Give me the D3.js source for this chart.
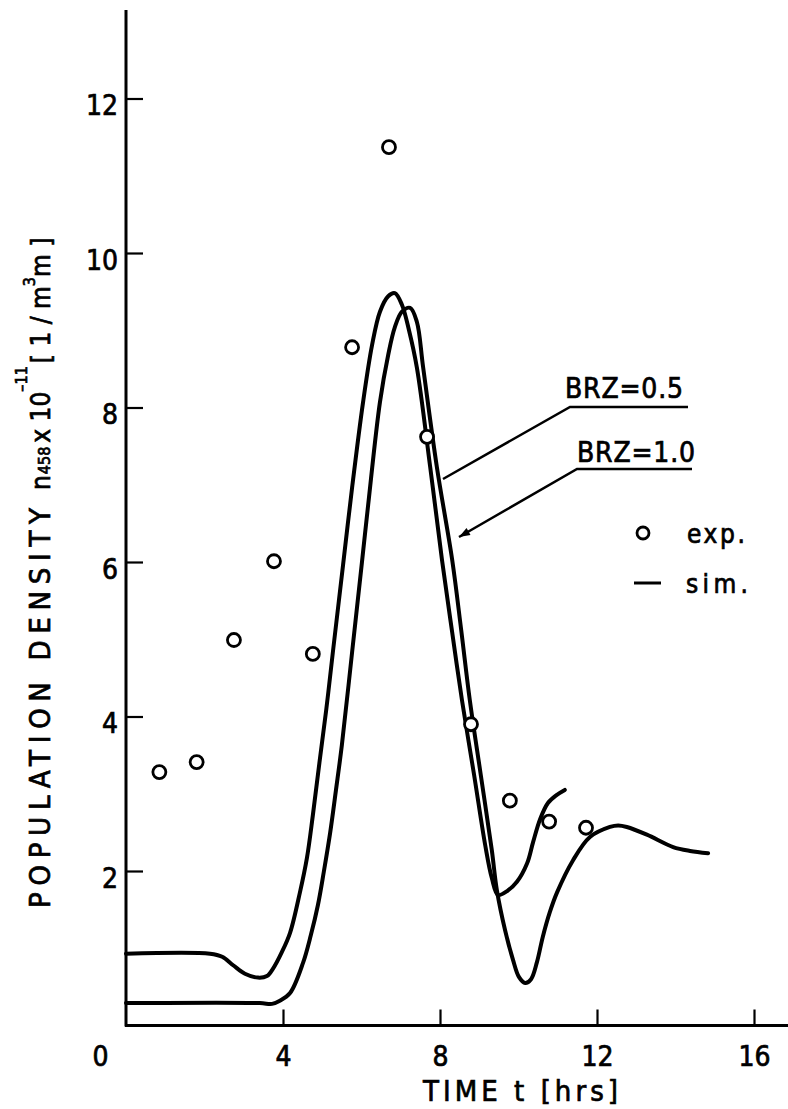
<!DOCTYPE html>
<html>
<head>
<meta charset="utf-8">
<script src="https://cdn.jsdelivr.net/npm/d3@7"></script>
<style>
  body { margin: 0; background: #fff; }
  svg text { font-family: "DejaVu Sans Condensed", "DejaVu Sans", sans-serif; fill: #000; stroke: #000; stroke-width: 0.7px; }
</style>
</head>
<body>
<div id="wrapper"></div>
<script>
// measured data: experiment points and the two simulated curves
const expTime = [0.85, 1.8, 2.75, 3.77, 4.76, 5.76, 6.7, 7.67, 8.79, 9.78, 10.78, 11.72]
const expDensity = [3.28, 3.41, 4.99, 6.01, 4.81, 8.78, 11.37, 7.62, 3.9, 2.91, 2.64, 2.56]

const simTimeBrz05 = [0, 2.14, 2.45, 2.73, 3.03, 3.36, 3.59, 3.75, 3.97, 4.18, 4.43, 4.61, 4.76, 4.92, 5.1, 5.27, 5.53, 5.76, 6.04, 6.27, 6.47, 6.68, 6.85, 7.03, 7.21, 7.41, 7.75, 8.05, 8.31, 8.56, 8.87, 9.15, 9.32, 9.48, 9.71, 9.96, 10.22, 10.37, 10.55, 10.75, 10.96, 11.18]
const simDensityBrz05 = [0.93, 0.93, 0.89, 0.78, 0.67, 0.62, 0.64, 0.74, 0.95, 1.2, 1.72, 2.17, 2.72, 3.37, 4.08, 4.83, 5.96, 6.96, 8.07, 8.81, 9.24, 9.44, 9.48, 9.33, 9.0, 8.52, 7.23, 6.03, 5.09, 4.21, 3.24, 2.34, 1.91, 1.69, 1.74, 1.86, 2.1, 2.37, 2.67, 2.88, 2.98, 3.05]

const simTimeBrz10 = [0, 3.41, 3.72, 3.92, 4.18, 4.51, 4.71, 4.89, 5.04, 5.2, 5.35, 5.5, 5.76, 6.01, 6.17, 6.47, 6.68, 6.85, 7.03, 7.24, 7.41, 7.57, 7.92, 8.31, 8.54, 8.76, 9.04, 9.32, 9.45, 9.66, 9.86, 10.01, 10.17, 10.32, 10.47, 10.62, 10.8, 10.98, 11.39, 11.82, 12.33, 12.54, 12.76, 13.27, 13.94, 14.37, 14.83]
const simDensityBrz10 = [0.29, 0.29, 0.28, 0.32, 0.42, 0.81, 1.17, 1.56, 1.99, 2.49, 3.05, 3.63, 4.83, 5.99, 6.74, 8.07, 8.68, 9.04, 9.24, 9.29, 9.11, 8.52, 7.23, 6.03, 5.12, 4.21, 3.24, 2.27, 1.75, 1.23, 0.85, 0.63, 0.55, 0.6, 0.82, 1.15, 1.47, 1.72, 2.14, 2.44, 2.57, 2.59, 2.57, 2.47, 2.31, 2.26, 2.23]

const xTicks = [0, 4, 8, 12, 16]
const yTicks = [2, 4, 6, 8, 10, 12]

const curves = [
    {label: "BRZ=0.5", t: simTimeBrz05, n: simDensityBrz05},
    {label: "BRZ=1.0", t: simTimeBrz10, n: simDensityBrz10},
]

// chart dimensions
const width = 788
const height = 1109

const svg = d3.select("#wrapper")
    .append("svg")
    .attr("width", width)
    .attr("height", height)

const xScale = d3.scaleLinear().domain([0, 16]).range([126, 754])
const yScale = d3.scaleLinear().domain([0, 12]).range([1025.5, 98.5])

// axes
const xAxis = svg.append("g")
    .attr("transform", `translate(0, ${yScale(0)})`)
    .call(d3.axisBottom(xScale).tickValues(xTicks).tickSize(-16).tickSizeOuter(0))
xAxis.select(".domain").remove()
xAxis.selectAll("line").attr("stroke-width", 2.2)
xAxis.selectAll("text")
    .attr("y", 40).attr("dy", 0)
    .style("font-size", "28px")
    .attr("dx", d => d === 0 ? -26 : 0)
xAxis.selectAll(".tick").filter(d => d === 0).select("line").remove()

const yAxis = svg.append("g")
    .attr("transform", `translate(${xScale(0)}, 0)`)
    .call(d3.axisLeft(yScale).tickValues(yTicks).tickSize(-17).tickPadding(8).tickSizeOuter(0))
yAxis.select(".domain").remove()
yAxis.selectAll("line").attr("stroke-width", 2.2)
yAxis.selectAll("text")
    .attr("dy", 16)
    .style("font-size", "28px")

svg.append("line")
    .attr("x1", xScale(0)).attr("x2", xScale(0))
    .attr("y1", 10).attr("y2", yScale(0) + 1)
    .attr("stroke", "#000").attr("stroke-width", 3)
svg.append("line")
    .attr("x1", xScale(0) - 1).attr("x2", width)
    .attr("y1", yScale(0)).attr("y2", yScale(0))
    .attr("stroke", "#000").attr("stroke-width", 3)

// axis titles
svg.append("text")
    .attr("x", 423).attr("y", 1101)
    .attr("textLength", 195)
    .style("font-size", "29px")
    .text("TIME t [hrs]")

const yTitle = svg.append("g")
    .attr("transform", "translate(50, 0) rotate(-90)")
yTitle.append("text")
    .attr("x", -908).attr("y", 0)
    .attr("textLength", 400)
    .style("font-size", "29px")
    .text("POPULATION DENSITY")
const unitText = yTitle.append("text")
    .attr("x", -490).attr("y", 0)
    .style("font-size", "26px")
unitText.append("tspan").text("n")
unitText.append("tspan").style("font-size", "16px").attr("dx", 1).text("458")
unitText.append("tspan").attr("dx", 4).text("x 10")
unitText.append("tspan").style("font-size", "16px").attr("dy", -23).attr("dx", 0).text("\u201311")
unitText.append("tspan").attr("dy", 23).attr("dx", 3).text("[ 1 / m")
unitText.append("tspan").style("font-size", "16px").attr("dy", -15).text("3")
unitText.append("tspan").attr("dy", 15).text("m ]")

// simulated curves
const line = d3.line()
    .x(d => xScale(d[0]))
    .y(d => yScale(d[1]))
    .curve(d3.curveCatmullRom.alpha(0.5))

svg.append("g")
    .selectAll("path")
    .data(curves)
    .join("path")
    .attr("d", c => line(c.t.map((t, i) => [t, c.n[i]])))
    .attr("fill", "none")
    .attr("stroke", "#000")
    .attr("stroke-width", 4)
    .attr("stroke-linejoin", "round")
    .attr("stroke-linecap", "round")

// experimental points
svg.append("g")
    .selectAll("circle")
    .data(expTime.map((t, i) => [t, expDensity[i]]))
    .join("circle")
    .attr("cx", d => xScale(d[0]))
    .attr("cy", d => yScale(d[1]))
    .attr("r", 6.5)
    .attr("fill", "#fff")
    .attr("stroke", "#000")
    .attr("stroke-width", 2.8)

// curve labels with leader lines
const annotations = [
    {label: "BRZ=0.5", tx: 565, ty: 398, ux1: 570, ux2: 688, uy: 407, px: 443, py: 479, arrow: false},
    {label: "BRZ=1.0", tx: 577, ty: 462, ux1: 577, ux2: 692, uy: 469, px: 459, py: 537, arrow: true},
]
const ann = svg.append("g")
annotations.forEach(a => {
    ann.append("text")
        .attr("x", a.tx).attr("y", a.ty)
        .attr("textLength", 118)
        .style("font-size", "28px")
        .text(a.label)
    ann.append("polyline")
        .attr("points", `${a.ux2},${a.uy} ${a.ux1},${a.uy} ${a.px},${a.py}`)
        .attr("fill", "none")
        .attr("stroke", "#000")
        .attr("stroke-width", 2.5)
    if (a.arrow) {
        const ang = Math.atan2(a.py - a.uy, a.px - a.ux1)
        const L = 11, W = 4
        const bx = a.px - L * Math.cos(ang), by = a.py - L * Math.sin(ang)
        ann.append("polygon")
            .attr("points", `${a.px},${a.py} ${bx - W * Math.sin(ang)},${by + W * Math.cos(ang)} ${bx + W * Math.sin(ang)},${by - W * Math.cos(ang)}`)
            .attr("fill", "#000")
    }
})

// legend
const legend = svg.append("g")
legend.append("circle")
    .attr("cx", 643).attr("cy", 533).attr("r", 6)
    .attr("fill", "none").attr("stroke", "#000").attr("stroke-width", 2.8)
legend.append("text")
    .attr("x", 687).attr("y", 543)
    .attr("textLength", 58)
    .style("font-size", "26px")
    .text("exp.")
legend.append("line")
    .attr("x1", 634).attr("x2", 661).attr("y1", 583).attr("y2", 583)
    .attr("stroke", "#000").attr("stroke-width", 3)
legend.append("text")
    .attr("x", 686).attr("y", 593)
    .attr("textLength", 62)
    .style("font-size", "26px")
    .text("sim.")
</script>
</body>
</html>
